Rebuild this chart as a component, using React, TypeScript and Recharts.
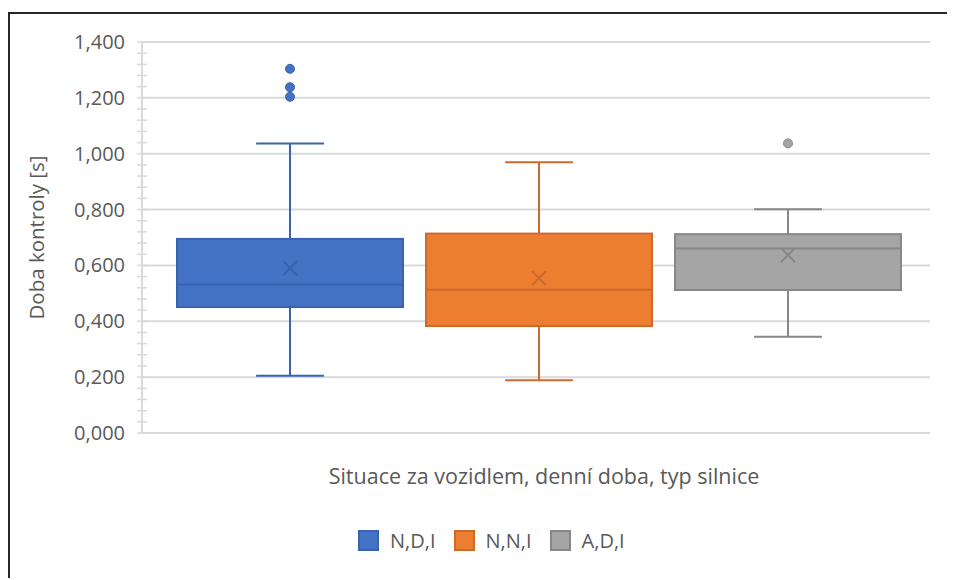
import React from 'react';
import { ComposedChart, Bar, XAxis, YAxis, CartesianGrid, Legend } from 'recharts';

// statistiky pro každou skupinu (N,D,I / N,N,I / A,D,I)
const seriesNames = ['N,D,I', 'N,N,I', 'A,D,I'];
const q1Values = [0.451, 0.383, 0.512];
const q3Values = [0.695, 0.714, 0.712];
const medianValues = [0.532, 0.513, 0.661];
const meanValues = [0.59, 0.554, 0.637];
const whiskerLow = [0.205, 0.189, 0.345];
const whiskerHigh = [1.037, 0.969, 0.801];
const outlierValues = [[1.204, 1.238, 1.304], [], [1.037]];
const majorTicks = [0, 0.2, 0.4, 0.6, 0.8, 1.0, 1.2, 1.4];
const Y_MAX = 1.4;

const fills = ['#4472C4', '#ED7D31', '#A5A5A5'];
const strokes = ['#3A62AE', '#CC6A2C', '#878787'];

const FONT = '"Open Sans", sans-serif';
const TEXT = '#595959';

const seriesKeys = ['s0', 's1', 's2'];
const chartData = [
  seriesKeys.reduce(
    (acc, key, i) => {
      acc[key] = [q1Values[i], q3Values[i]];
      return acc;
    },
    { name: 'all' } as Record<string, any>
  ),
];

// vedlejší značky po 0,04
const minorTicks = Array.from({ length: 36 }, (_, i) => Math.round(i * 40) / 1000);

function BoxShape(props: any) {
  const { x, y, width, height, idx } = props;
  const lo = q1Values[idx];
  const hi = q3Values[idx];
  if (height == null || !isFinite(height)) return null;
  const ppu = height / (hi - lo);
  const yOf = (v: number) => y + (hi - v) * ppu;
  const cx = x + width / 2;
  const cap = width * 0.15;
  const stroke = strokes[idx];
  const my = yOf(meanValues[idx]);
  const m = 7;
  return (
    <g>
      <line x1={cx} x2={cx} y1={yOf(whiskerHigh[idx])} y2={yOf(hi)} stroke={stroke} strokeWidth={2} />
      <line x1={cx} x2={cx} y1={yOf(lo)} y2={yOf(whiskerLow[idx])} stroke={stroke} strokeWidth={2} />
      <line x1={cx - cap} x2={cx + cap} y1={yOf(whiskerHigh[idx])} y2={yOf(whiskerHigh[idx])} stroke={stroke} strokeWidth={2} />
      <line x1={cx - cap} x2={cx + cap} y1={yOf(whiskerLow[idx])} y2={yOf(whiskerLow[idx])} stroke={stroke} strokeWidth={2} />
      <rect x={x} y={y} width={width} height={height} fill={fills[idx]} stroke={stroke} strokeWidth={2} />
      <line x1={x} x2={x + width} y1={yOf(medianValues[idx])} y2={yOf(medianValues[idx])} stroke={stroke} strokeWidth={2} />
      <line x1={cx - m} x2={cx + m} y1={my - m} y2={my + m} stroke={stroke} strokeWidth={2} />
      <line x1={cx - m} x2={cx + m} y1={my + m} y2={my - m} stroke={stroke} strokeWidth={2} />
      {outlierValues[idx].map((v, j) => (
        <circle key={j} cx={cx} cy={yOf(v)} r={4.5} fill={fills[idx]} stroke={stroke} strokeWidth={1} />
      ))}
    </g>
  );
}

function YTick(props: any) {
  const { x, y, payload } = props;
  const v = payload.value;
  const isMajor = majorTicks.some((t) => Math.abs(t - v) < 1e-6);
  return (
    <g>
      <line x1={x - 5} x2={x + 5} y1={y} y2={y} stroke="#d9d9d9" strokeWidth={1.5} />
      {isMajor && (
        <text x={x - 17} y={y} dy={7} textAnchor="end" fill={TEXT} fontSize={20} fontFamily={FONT}>
          {v.toFixed(3).replace('.', ',')}
        </text>
      )}
    </g>
  );
}

function renderLegend() {
  return (
    <div style={{ display: 'flex', alignItems: 'center', height: 26, paddingLeft: 348, fontFamily: FONT, fontSize: 20, color: TEXT }}>
      {seriesNames.map((n, i) => (
        <div key={n} style={{ display: 'flex', alignItems: 'center', marginRight: 18 }}>
          <span style={{ display: 'inline-block', width: 17, height: 17, background: fills[i], border: `2px solid ${strokes[i]}`, marginRight: 11 }} />
          <span>{n}</span>
        </div>
      ))}
    </div>
  );
}

const gridCoords = (props: any) => {
  const off = props.offset || {};
  const top = off.top ?? 0;
  const h = off.height ?? 0;
  return majorTicks.map((t) => top + h * (1 - t / Y_MAX));
};

export default function App() {
  return (
    <div style={{ position: 'relative', top: 4, width: 947, height: 568, borderTop: '2px solid #262626', borderLeft: '2px solid #262626', background: '#fff' }}>
      <ComposedChart
        width={945}
        height={566}
        data={chartData}
        margin={{ top: 28, right: 25, left: 0, bottom: 27 }}
        barCategoryGap={29}
        barGap={23}
      >
        <CartesianGrid vertical={false} stroke="#d9d9d9" strokeWidth={2} horizontalCoordinatesGenerator={gridCoords} />
        <XAxis
          dataKey="name"
          height={94}
          padding={{ left: 6, right: 0 }}
          tick={false}
          axisLine={false}
          tickLine={false}
          label={{ value: 'Situace za vozidlem, denní doba, typ silnice', position: 'insideTop', offset: 36, dx: 8, fill: TEXT, fontSize: 21.5, fontFamily: FONT }}
        />
        <YAxis
          width={132}
          domain={[0, Y_MAX]}
          ticks={minorTicks}
          interval={0}
          tickSize={0}
          tickMargin={0}
          tickLine={false}
          axisLine={{ stroke: '#d9d9d9', strokeWidth: 2 }}
          tick={<YTick />}
          label={{ value: 'Doba kontroly [s]', angle: -90, position: 'insideLeft', offset: 27, fill: TEXT, fontSize: 20.5, fontFamily: FONT, style: { textAnchor: 'middle' } }}
        />
        <Legend verticalAlign="bottom" wrapperStyle={{ left: 0, width: 945 }} content={renderLegend} />
        {seriesKeys.map((k, i) => (
          <Bar
            key={k}
            dataKey={k}
            name={seriesNames[i]}
            fill={fills[i]}
            isAnimationActive={false}
            shape={(p: any) => <BoxShape {...p} idx={i} />}
          />
        ))}
      </ComposedChart>
    </div>
  );
}
